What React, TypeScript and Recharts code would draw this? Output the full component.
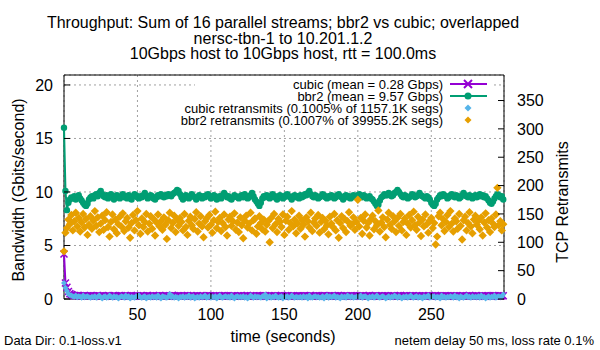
import {
  CartesianGrid,
  ComposedChart,
  Line,
  ReferenceArea,
  Scatter,
  XAxis,
  YAxis,
} from "recharts";

const PURPLE = "#9400d3";
const GREEN = "#009e73";
const BLUE = "#56b4e9";
const ORANGE = "#e69f00";
const FONT = "'Liberation Sans', Arial, Helvetica, sans-serif";

// one sample per second, t = 0 .. 299
const bbr2Gbps = [
  16.0, 10.1, 8.3, 9.0, 9.3, 9.5, 9.4, 9.6, 9.3, 9.5, 9.7, 9.4, 9.2, 9.0, 8.8, 8.7, 8.9, 9.3, 9.5, 9.6,
  9.4, 9.7, 9.8, 9.6, 9.9, 10.1, 9.8, 9.6, 9.5, 9.7, 9.4, 9.6, 9.8, 9.5, 9.3, 9.6, 9.7, 9.5, 9.4, 9.6,
  9.8, 9.5, 9.6, 9.4, 9.7, 9.5, 9.3, 9.6, 9.8, 9.7, 9.5, 9.4, 9.6, 9.5, 9.7, 9.9, 9.6, 9.4, 9.5, 9.7,
  9.6, 9.4, 9.3, 9.5, 9.7, 9.6, 9.8, 9.6, 9.5, 9.7, 9.6, 9.8, 9.7, 9.6, 9.8, 9.9, 10.0, 10.2, 10.1, 9.8,
  9.5, 9.3, 9.6, 9.7, 9.5, 9.4, 9.6, 9.8, 9.6, 9.5, 9.3, 9.5, 9.7, 9.6, 9.4, 9.6, 9.5, 9.7, 9.8, 9.6,
  9.4, 9.5, 9.7, 9.6, 9.3, 9.5, 9.6, 9.4, 9.7, 9.9, 9.7, 9.5, 9.6, 9.4, 9.3, 9.5, 9.7, 9.6, 9.5, 9.4,
  9.6, 9.7, 9.5, 9.8, 9.6, 9.4, 9.5, 9.7, 9.9, 9.6, 9.3, 9.1, 8.9, 8.7, 9.0, 9.4, 9.6, 9.5, 9.7, 9.6,
  9.4, 9.6, 9.8, 9.5, 9.6, 9.3, 9.5, 9.7, 9.6, 9.4, 9.5, 9.7, 9.8, 9.6, 9.5, 9.3, 9.6, 9.7, 9.5, 9.6,
  9.4, 9.7, 9.5, 9.6, 9.8, 9.7, 9.9, 10.1, 9.8, 9.6, 9.5, 9.7, 9.6, 9.4, 9.5, 9.6, 9.8, 9.7, 9.5, 9.4,
  9.6, 9.5, 9.7, 9.6, 9.4, 9.5, 9.7, 9.8, 9.6, 9.5, 9.3, 9.6, 9.7, 9.5, 9.6, 9.4, 9.5, 9.7, 9.6, 9.5,
  9.7, 9.8, 9.6, 9.5, 9.7, 9.6, 9.4, 9.5, 9.6, 9.4, 9.3, 9.1, 8.9, 8.7, 8.8, 9.2, 9.5, 9.6, 9.8, 9.7,
  9.7, 9.9, 9.8, 9.6, 9.7, 9.9, 10.0, 10.2, 10.0, 9.8, 9.6, 9.5, 9.7, 9.6, 9.4, 9.5, 9.6, 9.8, 9.7, 9.5,
  9.6, 9.7, 9.9, 9.7, 9.6, 9.5, 9.4, 9.6, 9.5, 9.3, 9.0, 8.8, 8.7, 8.9, 9.3, 9.5, 9.7, 9.6, 9.8, 9.7,
  9.6, 9.4, 9.5, 9.7, 9.8, 9.6, 9.5, 9.7, 9.6, 9.4, 9.5, 9.7, 9.9, 9.7, 9.6, 9.5, 9.7, 9.6, 9.4, 9.6,
  9.7, 9.5, 9.6, 9.8, 9.6, 9.7, 9.5, 9.6, 9.4, 9.2, 9.0, 8.9, 9.1, 9.4, 9.6, 9.8, 9.7, 9.5, 9.6, 9.3,
];

const cubicGbps = [
  4.2, 1.5, 1.1, 0.7, 0.5, 0.42, 0.36, 0.33, 0.30, 0.32, 0.29, 0.31, 0.28, 0.30, 0.33, 0.29, 0.27, 0.31, 0.30, 0.28,
  0.30, 0.27, 0.29, 0.32, 0.28, 0.26, 0.30, 0.31, 0.27, 0.29, 0.33, 0.28, 0.26, 0.30, 0.29, 0.31, 0.27, 0.28, 0.32, 0.29,
  0.27, 0.30, 0.28, 0.31, 0.26, 0.29, 0.32, 0.28, 0.27, 0.30, 0.29, 0.26, 0.31, 0.28, 0.30, 0.27, 0.29, 0.33, 0.28, 0.26,
  0.29, 0.31, 0.27, 0.30, 0.28, 0.32, 0.29, 0.26, 0.30, 0.28, 0.31, 0.27, 0.29, 0.30, 0.34, 0.29, 0.27, 0.30, 0.28, 0.31,
  0.26, 0.29, 0.30, 0.28, 0.32, 0.27, 0.29, 0.31, 0.28, 0.26, 0.30, 0.29, 0.27, 0.31, 0.28, 0.30, 0.26, 0.29, 0.32, 0.28,
  0.30, 0.27, 0.29, 0.28, 0.31, 0.26, 0.30, 0.28, 0.29, 0.33, 0.27, 0.29, 0.30, 0.26, 0.28, 0.31, 0.29, 0.27, 0.30, 0.28,
  0.31, 0.28, 0.26, 0.30, 0.29, 0.32, 0.27, 0.29, 0.28, 0.30, 0.26, 0.31, 0.29, 0.27, 0.30, 0.28, 0.32, 0.29, 0.26, 0.30,
  0.28, 0.30, 0.27, 0.31, 0.29, 0.26, 0.30, 0.28, 0.33, 0.29, 0.27, 0.30, 0.28, 0.31, 0.26, 0.29, 0.30, 0.28, 0.27, 0.31,
  0.29, 0.26, 0.30, 0.28, 0.31, 0.29, 0.27, 0.30, 0.32, 0.28, 0.26, 0.29, 0.31, 0.27, 0.30, 0.28, 0.29, 0.33, 0.27, 0.30,
  0.28, 0.31, 0.29, 0.26, 0.30, 0.27, 0.29, 0.32, 0.28, 0.30, 0.27, 0.29, 0.31, 0.26, 0.28, 0.30, 0.29, 0.27, 0.31, 0.28,
  0.30, 0.29, 0.27, 0.31, 0.28, 0.26, 0.30, 0.29, 0.32, 0.28, 0.27, 0.30, 0.29, 0.31, 0.26, 0.28, 0.30, 0.27, 0.29, 0.31,
  0.28, 0.30, 0.26, 0.29, 0.31, 0.28, 0.27, 0.30, 0.29, 0.33, 0.28, 0.26, 0.30, 0.29, 0.27, 0.31, 0.28, 0.30, 0.29, 0.27,
  0.30, 0.28, 0.31, 0.27, 0.29, 0.30, 0.26, 0.28, 0.31, 0.29, 0.27, 0.30, 0.28, 0.32, 0.29, 0.26, 0.30, 0.28, 0.27, 0.31,
  0.29, 0.27, 0.30, 0.28, 0.31, 0.29, 0.26, 0.30, 0.28, 0.27, 0.31, 0.29, 0.30, 0.28, 0.26, 0.29, 0.32, 0.28, 0.30, 0.27,
  0.29, 0.31, 0.28, 0.26, 0.30, 0.29, 0.27, 0.31, 0.28, 0.30, 0.29, 0.27, 0.32, 0.28, 0.30, 0.26, 0.29, 0.31, 0.28, 0.30,
];

// retransmits per second (right axis)
const cubicRetx = [
  28, 20, 14, 9, 7, 6, 5, 4, 6, 3, 5, 4, 2, 6, 3, 4, 5, 3, 2, 4,
  3, 5, 2, 4, 6, 3, 1, 4, 5, 2, 3, 6, 4, 2, 5, 3, 4, 1, 3, 5,
  4, 2, 6, 3, 5, 1, 4, 3, 2, 5, 4, 6, 3, 2, 4, 5, 1, 3, 4, 2,
  5, 3, 4, 2, 6, 3, 1, 5, 4, 3, 2, 4, 9, 3, 5, 2, 4, 3, 1, 4,
  3, 5, 2, 4, 3, 6, 2, 4, 5, 1, 3, 4, 2, 5, 3, 4, 6, 2, 3, 5,
  2, 4, 3, 5, 1, 4, 6, 3, 2, 4, 5, 3, 4, 2, 6, 3, 1, 4, 5, 3,
  4, 3, 5, 2, 4, 1, 3, 6, 4, 2, 5, 3, 4, 3, 2, 5, 4, 8, 1, 3,
  5, 2, 4, 3, 6, 3, 2, 4, 5, 1, 4, 3, 5, 2, 3, 6, 4, 2, 4, 3,
  3, 4, 2, 5, 3, 4, 1, 6, 3, 2, 4, 5, 3, 4, 2, 3, 5, 1, 4, 6,
  2, 5, 3, 4, 6, 2, 4, 3, 1, 5, 3, 4, 2, 6, 4, 3, 5, 2, 3, 4,
  4, 3, 6, 2, 4, 5, 3, 1, 4, 3, 5, 2, 4, 6, 3, 2, 4, 5, 3, 1,
  3, 5, 2, 4, 3, 6, 4, 2, 5, 3, 1, 4, 3, 5, 2, 4, 6, 3, 2, 4,
  5, 2, 4, 3, 1, 5, 3, 4, 6, 2, 3, 4, 5, 2, 4, 3, 1, 6, 3, 4,
  2, 4, 3, 5, 4, 2, 6, 3, 4, 1, 5, 3, 2, 4, 6, 3, 4, 2, 5, 3,
  4, 3, 5, 2, 6, 3, 4, 1, 3, 5, 2, 4, 3, 6, 2, 4, 5, 3, 4, 8,
];

const bbr2Retx = [
  84, 117, 125, 140, 132, 148, 121, 137, 152, 128, 143, 119, 135, 150, 126, 141, 113, 131, 146, 124,
  138, 155, 129, 144, 118, 133, 147, 122, 139, 153, 127, 110, 136, 149, 123, 140, 116, 132, 145, 128,
  151, 120, 137, 143, 126, 108, 134, 148, 121, 139, 155, 130, 115, 142, 127, 136, 150, 119, 133, 146,
  124, 141, 112, 135, 149, 128, 137, 122, 144, 131, 106, 139, 152, 125, 134, 147, 118, 140, 129, 143,
  136, 121, 150, 127, 113, 138, 145, 130, 124, 141, 153, 119, 133, 146, 128, 109, 137, 142, 126, 148,
  131, 117, 139, 154, 125, 136, 143, 120, 134, 149, 127, 112, 140, 145, 129, 137, 151, 122, 135, 118,
  144, 130, 107, 138, 147, 126, 133, 152, 121, 139, 142, 115, 128, 146, 134, 123, 140, 119, 131, 137,
  100, 143, 125, 150, 132, 118, 141, 136, 127, 149, 113, 138, 145, 122, 134, 155, 128, 140, 116, 133,
  147, 124, 139, 131, 110, 144, 137, 126, 152, 120, 135, 142, 129, 148, 117, 136, 143, 123, 138, 130,
  114, 145, 133, 127, 150, 121, 139, 108, 134, 146, 125, 141, 118, 137, 153, 129, 132, 144, 122, 136,
  175, 128, 143, 115, 138, 149, 126, 134, 112, 141, 147, 123, 137, 130, 156, 119, 135, 144, 127, 109,
  140, 152, 131, 124, 146, 137, 118, 143, 129, 150, 121, 136, 142, 113, 133, 148, 126, 139, 154, 130,
  122, 145, 135, 111, 140, 128, 149, 132, 117, 138, 143, 125, 134, 96, 110, 146, 152, 130, 141, 120,
  136, 148, 127, 155, 133, 119, 142, 137, 124, 150, 129, 105, 139, 145, 121, 134, 153, 128, 116, 140,
  147, 131, 138, 123, 144, 112, 135, 151, 126, 139, 118, 142, 133, 127, 149, 196, 130, 137, 121, 132,
];

const xTicks = [50, 100, 150, 200, 250];
const leftTicks = [0, 5, 10, 15, 20];
const rightTicks = [0, 50, 100, 150, 200, 250, 300, 350];

const titleLines = [
  "Throughput: Sum of 16 parallel streams; bbr2 vs cubic; overlapped",
  "nersc-tbn-1 to 10.201.1.2",
  "10Gbps host to 10Gbps host, rtt = 100.0ms",
];

const legendItems = [
  { label: "cubic (mean = 0.28 Gbps)", color: PURPLE, mark: "x" },
  { label: "bbr2 (mean = 9.57 Gbps)", color: GREEN, mark: "circle" },
  { label: "cubic retransmits (0.1005% of 1157.1K segs)", color: BLUE, mark: "diamond" },
  { label: "bbr2 retransmits (0.1007% of 39955.2K segs)", color: ORANGE, mark: "diamond" },
];

const rows = bbr2Gbps.map((v, i) => ({
  t: i,
  bbr2: v,
  cubic: cubicGbps[i],
  cubicRetx: cubicRetx[i],
  bbr2Retx: bbr2Retx[i],
}));

const diamond = (cx: number, cy: number, r: number) =>
  `M${cx},${cy - r}L${cx + r},${cy}L${cx},${cy + r}L${cx - r},${cy}Z`;

const cross = (cx: number, cy: number, r: number) =>
  `M${cx - r},${cy - r}L${cx + r},${cy + r}M${cx - r},${cy + r}L${cx + r},${cy - r}`;

function XDot(p: any) {
  if (p.cx == null || p.cy == null) return <g key={`cx${p.index}`} />;
  return <path key={`cx${p.index}`} d={cross(p.cx, p.cy, 3.5)} stroke={PURPLE} strokeWidth={1.5} fill="none" />;
}

function CircleDot(p: any) {
  if (p.cx == null || p.cy == null) return <g key={`gd${p.index}`} />;
  return <circle key={`gd${p.index}`} cx={p.cx} cy={p.cy} r={3.2} fill={GREEN} stroke="none" />;
}

const blueDiamond = (p: any) => <path d={diamond(p.cx, p.cy, 3)} fill={BLUE} />;
const orangeDiamond = (p: any) => <path d={diamond(p.cx, p.cy, 4.2)} fill={ORANGE} />;

function XTick({ x, y, payload }: any) {
  return (
    <g>
      <line x1={x} x2={x} y1={y} y2={y - 6} stroke="#000" />
      <text x={x} y={y + 21} textAnchor="middle" fontSize={16} fill="#000" fontFamily={FONT}>
        {payload.value}
      </text>
    </g>
  );
}

function LeftTick({ x, y, payload }: any) {
  return (
    <g>
      <line x1={x} x2={x + 6} y1={y} y2={y} stroke="#000" />
      <text x={x - 11} y={y + 5.7} textAnchor="end" fontSize={16} fill="#000" fontFamily={FONT}>
        {payload.value}
      </text>
    </g>
  );
}

function RightTick({ x, y, payload }: any) {
  return (
    <g>
      <line x1={x} x2={x - 6} y1={y} y2={y} stroke="#000" />
      <text x={x + 13} y={y + 5.7} textAnchor="start" fontSize={16} fill="#000" fontFamily={FONT}>
        {payload.value}
      </text>
    </g>
  );
}

function LegendMark({ mark, color, y }: { mark: string; color: string; y: number }) {
  if (mark === "x")
    return (
      <g>
        <line x1={450} x2={487} y1={y} y2={y} stroke={color} strokeWidth={2} />
        <path d={cross(468, y, 4)} stroke={color} strokeWidth={2} />
      </g>
    );
  if (mark === "circle")
    return (
      <g>
        <line x1={450} x2={487} y1={y} y2={y} stroke={color} strokeWidth={2} />
        <circle cx={468} cy={y} r={3.5} fill={color} />
      </g>
    );
  return <path d={diamond(468, y, 3.5)} fill={color} />;
}

export default function App() {
  return (
    <div style={{ position: "absolute", left: 0, top: 0, width: 600, height: 350, background: "#fff" }}>
      <ComposedChart width={600} height={350} data={rows} margin={{ top: 75, right: 0, bottom: 0, left: 0 }}>
        <CartesianGrid yAxisId="left" stroke="#a0a0a0" strokeDasharray="2 3" />
        <XAxis
          dataKey="t"
          type="number"
          domain={[0, 299.5]}
          ticks={xTicks}
          interval={0}
          height={51}
          axisLine={false}
          tickLine={false}
          tickSize={0}
          tickMargin={0}
          tick={<XTick />}
        />
        <YAxis
          yAxisId="left"
          type="number"
          domain={[0, 20.93]}
          ticks={leftTicks}
          interval={0}
          width={64}
          axisLine={false}
          tickLine={false}
          tickSize={0}
          tickMargin={0}
          tick={<LeftTick />}
        />
        <YAxis
          yAxisId="right"
          orientation="right"
          type="number"
          domain={[0, 395]}
          ticks={rightTicks}
          interval={0}
          width={96}
          axisLine={false}
          tickLine={false}
          tickSize={0}
          tickMargin={0}
          tick={<RightTick />}
        />
        <Line
          yAxisId="left"
          dataKey="cubic"
          stroke={PURPLE}
          strokeWidth={2}
          type="linear"
          dot={XDot}
          activeDot={false}
          isAnimationActive={false}
        />
        <Line
          yAxisId="left"
          dataKey="bbr2"
          stroke={GREEN}
          strokeWidth={2}
          type="linear"
          dot={CircleDot}
          activeDot={false}
          isAnimationActive={false}
        />
        <Scatter yAxisId="right" dataKey="cubicRetx" fill={BLUE} shape={blueDiamond} isAnimationActive={false} />
        <Scatter yAxisId="right" dataKey="bbr2Retx" fill={ORANGE} shape={orangeDiamond} isAnimationActive={false} />
        <ReferenceArea
          yAxisId="left"
          x1={0}
          x2={299.5}
          y1={0}
          y2={20.93}
          fill="none"
          fillOpacity={0}
          stroke="#000"
          strokeWidth={1}
          ifOverflow="visible"
        />
      </ComposedChart>
      <svg
        width={600}
        height={350}
        style={{ position: "absolute", left: 0, top: 0, pointerEvents: "none" }}
        fontFamily={FONT}
      >
        {titleLines.map((s, i) => (
          <text key={s} x={283} y={28 + i * 15.5} textAnchor="middle" fontSize={16} fill="#000">
            {s}
          </text>
        ))}
        <rect x={195} y={76} width={297} height={51} fill="#fff" />
        {legendItems.map((it, i) => (
          <g key={it.label}>
            <text x={443} y={84 + i * 12 + 4.5} textAnchor="end" fontSize={13} fill="#000">
              {it.label}
            </text>
            <LegendMark mark={it.mark} color={it.color} y={84 + i * 12} />
          </g>
        ))}
        <text x={283} y={342} textAnchor="middle" fontSize={16} fill="#000">
          time (seconds)
        </text>
        <text x={24} y={190} textAnchor="middle" fontSize={16} fill="#000" transform="rotate(-90 24 190)">
          Bandwidth (Gbits/second)
        </text>
        <text x={568} y={202} textAnchor="middle" fontSize={16} fill="#000" transform="rotate(-90 568 202)">
          TCP Retransmits
        </text>
        <text x={4} y={345} fontSize={13} fill="#000">
          Data Dir: 0.1-loss.v1
        </text>
        <text x={594} y={345} textAnchor="end" fontSize={13} fill="#000">
          netem delay 50 ms, loss rate 0.1%
        </text>
      </svg>
    </div>
  );
}
